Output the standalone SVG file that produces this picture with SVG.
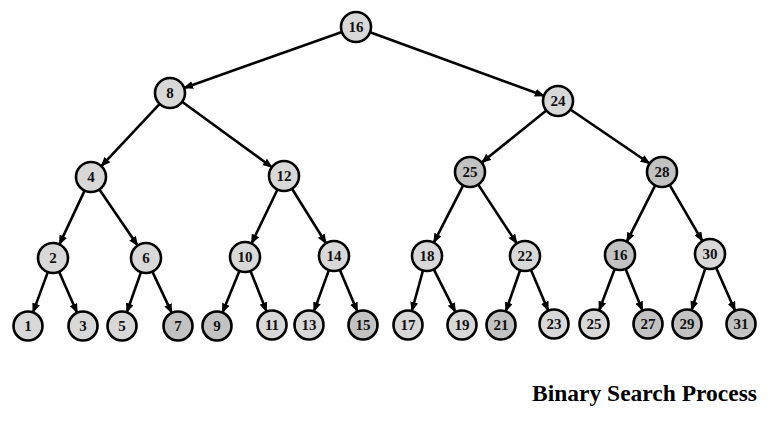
<svg xmlns="http://www.w3.org/2000/svg" width="768" height="441" viewBox="0 0 768 441">
<style>
  .n circle { fill: #d8d8d8; stroke: #000; stroke-width: 2.6; }
  .n.d circle { fill: #c2c2c2; }
  .n text { font-family: "Liberation Serif", "DejaVu Serif", serif; font-weight: bold; font-size: 15px; fill: #111; text-anchor: middle; dominant-baseline: central; }
  #edges line { stroke: #000; stroke-width: 2.6; marker-end: url(#ah); }
  .title { font-family: "Liberation Serif", "Times New Roman", serif; font-weight: bold; font-size: 23.5px; fill: #000; text-anchor: end; }
</style>
<defs>
  <marker id="ah" markerUnits="userSpaceOnUse" markerWidth="10" markerHeight="8" refX="9" refY="4" orient="auto">
    <path d="M0,0 L10,4 L0,8 z" fill="#000"/>
  </marker>
</defs>
<rect width="768" height="441" fill="#fff"/>
<g id="edges">
  <line x1="341.9" y1="32.0" x2="184.1" y2="88.0"/>
  <line x1="370.1" y1="32.2" x2="543.9" y2="95.8"/>
  <line x1="159.7" y1="103.9" x2="101.3" y2="166.1"/>
  <line x1="182.1" y1="101.8" x2="271.9" y2="167.2"/>
  <line x1="546.3" y1="110.4" x2="481.7" y2="162.6"/>
  <line x1="570.4" y1="109.5" x2="649.6" y2="163.5"/>
  <line x1="84.6" y1="190.6" x2="59.4" y2="244.4"/>
  <line x1="99.4" y1="189.4" x2="137.6" y2="245.6"/>
  <line x1="277.5" y1="189.5" x2="251.5" y2="243.5"/>
  <line x1="292.0" y1="188.7" x2="326.0" y2="243.3"/>
  <line x1="463.2" y1="185.4" x2="433.8" y2="242.6"/>
  <line x1="478.2" y1="184.6" x2="516.8" y2="243.4"/>
  <line x1="655.2" y1="185.4" x2="626.8" y2="241.6"/>
  <line x1="669.6" y1="184.9" x2="702.4" y2="241.1"/>
  <line x1="47.8" y1="272.1" x2="33.0" y2="312.4"/>
  <line x1="59.1" y1="271.7" x2="77.1" y2="312.7"/>
  <line x1="141.0" y1="272.1" x2="126.8" y2="312.3"/>
  <line x1="152.4" y1="271.6" x2="171.8" y2="312.9"/>
  <line x1="239.4" y1="270.9" x2="222.5" y2="312.6"/>
  <line x1="250.5" y1="270.9" x2="266.6" y2="311.5"/>
  <line x1="328.9" y1="270.1" x2="313.9" y2="311.4"/>
  <line x1="339.8" y1="269.8" x2="357.4" y2="311.6"/>
  <line x1="423.0" y1="270.5" x2="411.8" y2="311.0"/>
  <line x1="433.8" y1="269.4" x2="455.4" y2="312.1"/>
  <line x1="520.1" y1="270.2" x2="505.8" y2="311.3"/>
  <line x1="530.9" y1="269.8" x2="548.3" y2="310.7"/>
  <line x1="614.7" y1="269.0" x2="599.1" y2="310.4"/>
  <line x1="625.6" y1="268.9" x2="642.5" y2="310.6"/>
  <line x1="705.3" y1="268.3" x2="691.5" y2="310.2"/>
  <line x1="716.1" y1="267.7" x2="735.1" y2="310.7"/>
</g>
<g id="n16" class="n"><circle cx="356" cy="27" r="15"/><text x="356" y="27">16</text></g>
<g id="n8" class="n"><circle cx="170" cy="93" r="15"/><text x="170" y="93">8</text></g>
<g id="n24" class="n"><circle cx="558" cy="101" r="15"/><text x="558" y="101">24</text></g>
<g id="n4" class="n"><circle cx="91" cy="177" r="15"/><text x="91" y="177">4</text></g>
<g id="n12" class="n"><circle cx="284" cy="176" r="15"/><text x="284" y="176">12</text></g>
<g id="n25a" class="n d"><circle cx="470" cy="172" r="15"/><text x="470" y="172">25</text></g>
<g id="n28" class="n d"><circle cx="662" cy="172" r="15"/><text x="662" y="172">28</text></g>
<g id="n2" class="n"><circle cx="53" cy="258" r="15"/><text x="53" y="258">2</text></g>
<g id="n6" class="n"><circle cx="146" cy="258" r="15"/><text x="146" y="258">6</text></g>
<g id="n10" class="n"><circle cx="245" cy="257" r="15"/><text x="245" y="257">10</text></g>
<g id="n14" class="n"><circle cx="334" cy="256" r="15"/><text x="334" y="256">14</text></g>
<g id="n18" class="n"><circle cx="427" cy="256" r="15"/><text x="427" y="256">18</text></g>
<g id="n22" class="n"><circle cx="525" cy="256" r="15"/><text x="525" y="256">22</text></g>
<g id="n26" class="n d"><circle cx="620" cy="255" r="15"/><text x="620" y="255">16</text></g>
<g id="n30" class="n"><circle cx="710" cy="254" r="15"/><text x="710" y="254">30</text></g>
<g id="n1" class="n"><circle cx="28" cy="326" r="14.5"/><text x="28" y="326">1</text></g>
<g id="n3" class="n"><circle cx="83" cy="326" r="14.5"/><text x="83" y="326">3</text></g>
<g id="n5" class="n"><circle cx="122" cy="326" r="14.5"/><text x="122" y="326">5</text></g>
<g id="n7" class="n d"><circle cx="178" cy="326" r="14.5"/><text x="178" y="326">7</text></g>
<g id="n9" class="n d"><circle cx="217" cy="326" r="14.5"/><text x="217" y="326">9</text></g>
<g id="n11" class="n"><circle cx="272" cy="325" r="14.5"/><text x="272" y="325">11</text></g>
<g id="n13" class="n"><circle cx="309" cy="325" r="14.5"/><text x="309" y="325">13</text></g>
<g id="n15" class="n d"><circle cx="363" cy="325" r="14.5"/><text x="363" y="325">15</text></g>
<g id="n17" class="n"><circle cx="408" cy="325" r="14.5"/><text x="408" y="325">17</text></g>
<g id="n19" class="n"><circle cx="462" cy="325" r="14.5"/><text x="462" y="325">19</text></g>
<g id="n21" class="n d"><circle cx="501" cy="325" r="14.5"/><text x="501" y="325">21</text></g>
<g id="n23" class="n"><circle cx="554" cy="324" r="14.5"/><text x="554" y="324">23</text></g>
<g id="n25" class="n"><circle cx="594" cy="324" r="14.5"/><text x="594" y="324">25</text></g>
<g id="n27" class="n d"><circle cx="648" cy="324" r="14.5"/><text x="648" y="324">27</text></g>
<g id="n29" class="n d"><circle cx="687" cy="324" r="14.5"/><text x="687" y="324">29</text></g>
<g id="n31" class="n d"><circle cx="741" cy="324" r="14.5"/><text x="741" y="324">31</text></g>
<text class="title" x="757" y="401">Binary Search Process</text>
</svg>
